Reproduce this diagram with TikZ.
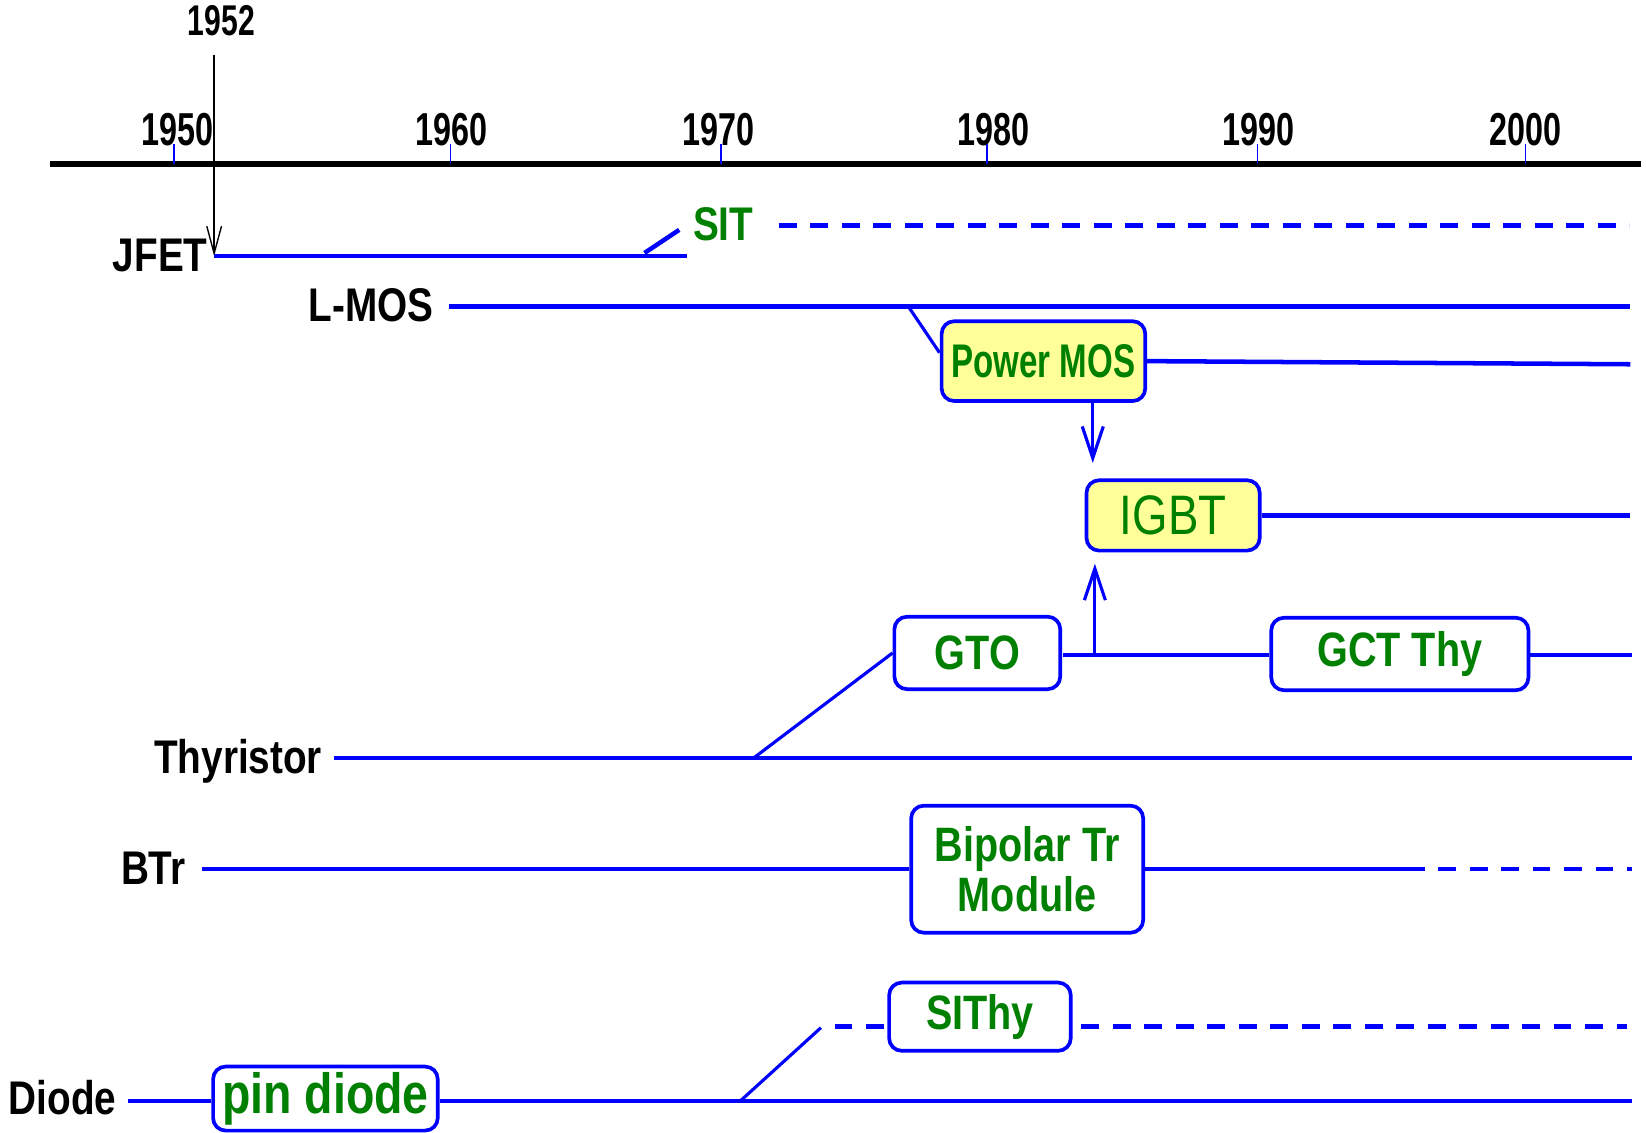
\documentclass[tikz,border=0pt]{standalone}
\usepackage{fontspec}
\setmainfont{Liberation Sans}
\newfontfamily\nf[FakeStretch=0.82]{Liberation Sans}
\newfontfamily\nfy[FakeStretch=0.7]{Liberation Sans}
\usetikzlibrary{arrows.meta}
\definecolor{gr}{RGB}{0,128,0}
\definecolor{bl}{RGB}{0,0,255}
\definecolor{ye}{RGB}{255,255,153}
\begin{document}
\begin{tikzpicture}[x=1pt,y=-1pt,
  ln/.style={draw=bl,line width=4.3pt},
  dsh/.style={ln,dash pattern=on 17pt off 13pt},
  tick/.style={draw=bl,line width=1.5pt},
  yr/.style={inner sep=0pt,anchor=base,font=\nfy\bfseries\fontsize{44}{44}\selectfont},
  lab/.style={inner sep=0pt,anchor=base east,font=\nf\bfseries\fontsize{45}{45}\selectfont},
  boxn/.style={draw=bl,line width=3.5pt,rounded corners=12pt,fill=white,text=gr,
    font=\nf\bfseries\fontsize{46}{47}\selectfont,inner sep=0pt,align=center},
  ybox/.style={boxn,fill=ye},
  barb/.style={-{Straight Barb[length=30pt,width=20pt]}}
]
\useasboundingbox (0,0) rectangle (1568,1079);

% axis
\coordinate (axL) at (48,156);
\coordinate (axR) at (1563,156);
\draw[line width=5.5pt] (axL) -- (axR);
\foreach \x/\lx/\t in {166/169/1950,429/430/1960,687/684/1970,940/946/1980,1198/1199/1990,1453/1453/2000}{
  \coordinate (t\t) at (\x,137);
  \draw[tick] (t\t) -- (\x,156);
  \node[yr] (y\t) at (\lx,139) {\t};
}

% 1952 marker
\node[yr,font=\nfy\bfseries\fontsize{41}{41}\selectfont] (y1952) at (211,34) {1952};
\coordinate (m1) at (204,52);
\coordinate (jS) at (204,244);
\draw[line width=1.3pt,-{Straight Barb[length=26pt,width=14pt]}] (m1) -- (jS);

% JFET / SIT
\node[lab] (jfet) at (198,259) {JFET};
\coordinate (jE) at (654,244);
\draw[ln] (jS) -- (jE);
\coordinate (s1) at (614,241);
\coordinate (s2) at (647,219);
\draw[ln] (s1) -- (s2);
\node[inner sep=0pt,anchor=base west,text=gr,font=\nf\bfseries\fontsize{45}{45}\selectfont] (sit) at (660,229) {SIT};
\coordinate (sd1) at (742,215);
\coordinate (sd2) at (1552,215);
\draw[dsh] (sd1) -- (sd2);

% L-MOS
\node[lab] (lmos) at (413,306) {L-MOS};
\coordinate (l1) at (428,292);
\coordinate (l2) at (1553,292);
\draw[ln] (l1) -- (l2);

% Power MOS
\node[ybox,minimum width=194pt,minimum height=76pt,font=\nfy\bfseries\fontsize{45}{45}\selectfont] (pmos) at (994,344) {Power MOS};
\coordinate (pd1) at (866,293);
\coordinate (pd2) at (895,336);
\draw[ln,line width=3pt] (pd1) -- (pd2);
\coordinate (pE) at (1553,347);
\draw[ln] (pmos.east) -- (pE);

% IGBT
\node[ybox,minimum width=165pt,minimum height=67pt,font=\nf\fontsize{53}{53}\selectfont] (igbt) at (1117.5,491) {IGBT};
\coordinate (iE) at (1553,491);
\draw[ln] (igbt.east) -- (iE);
\coordinate (a1) at (1041,382);
\coordinate (a2) at (1041,441);
\draw[ln,line width=3pt,barb] (a1) -- (a2);

% GTO / GCT
\node[boxn,minimum width=158pt,minimum height=69pt] (gto) at (931,622) {GTO};
\node[boxn,minimum width=245pt,minimum height=69pt] (gct) at (1333.5,623) {GCT Thy};
\coordinate (gL) at (1013,624);
\coordinate (gM) at (1043,624);
\draw[ln] (gL) -- (gL -| gct.west);
\coordinate (up) at (1043,537);
\draw[ln,line width=3pt,barb] (gM) -- (up);
\coordinate (gE) at (1555,624);
\draw[ln] (gE -| gct.east) -- (gE);

% Thyristor
\node[lab] (thy) at (307,737) {Thyristor};
\coordinate (th1) at (318,722);
\coordinate (th2) at (1555,722);
\coordinate (thB) at (718,722);
\draw[ln] (th1) -- (th2);
\draw[ln,line width=3pt] (thB) -- (gto.west);

% BTr
\node[lab] (btr) at (177,843) {BTr};
\node[boxn,minimum width=221pt,minimum height=121pt] (bip) at (978.5,828) {Bipolar Tr\\Module};
\coordinate (b1) at (192,828);
\coordinate (b2) at (1340,828);
\coordinate (b3) at (1555,828);
\draw[ln] (b1) -- (bip.west);
\draw[ln] (bip.east) -- (b2);
\draw[dsh] (b2) -- (b3);

% SIThy
\node[boxn,minimum width=173pt,minimum height=65pt] (sithy) at (933.5,968.5) {SIThy};
\coordinate (sy1) at (705,1049);
\coordinate (sy2) at (782,979);
\coordinate (sy3) at (795,978);
\coordinate (sy4) at (1030,978);
\coordinate (sy5) at (1550,978);
\draw[ln,line width=3pt] (sy1) -- (sy2);
\draw[dsh] (sy3) -- (sy3 -| sithy.west);
\draw[dsh] (sy4) -- (sy5);

% Diode
\node[lab] (diode) at (111,1062) {Diode};
\node[boxn,minimum width=214pt,minimum height=61pt,font=\nf\bfseries\fontsize{54}{54}\selectfont] (pin) at (310,1046.5) {pin diode};
\coordinate (d1) at (122,1049);
\coordinate (d2) at (1555,1049);
\draw[ln] (d1) -- (d1 -| pin.west);
\draw[ln] (d2 -| pin.east) -- (d2);
\end{tikzpicture}
\end{document}
